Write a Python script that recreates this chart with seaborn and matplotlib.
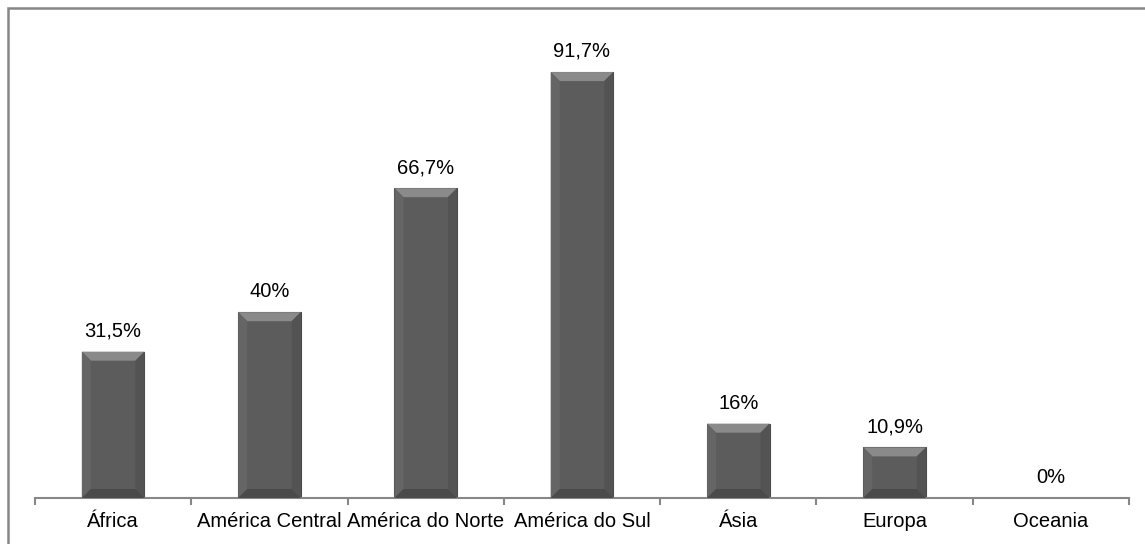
import matplotlib
matplotlib.use("Agg")
import matplotlib.pyplot as plt
import seaborn as sns
import pandas as pd
from matplotlib.patches import Rectangle, Polygon

# dados
regioes = ['África', 'América Central', 'América do Norte', 'América do Sul',
           'Ásia', 'Europa', 'Oceania']
percentuais = [31.5, 40.0, 66.7, 91.7, 16.0, 10.9, 0.0]
rotulos = ['31,5%', '40%', '66,7%', '91,7%', '16%', '10,9%', '0%']

df = pd.DataFrame({'regiao': regioes, 'pct': percentuais})

sns.set_style('white')
plt.rcParams['font.family'] = ['Liberation Sans', 'DejaVu Sans']

fig = plt.figure(figsize=(11.45, 5.44), dpi=100)
ax = fig.add_axes([35 / 1145, 46 / 544, (1129 - 35) / 1145, (498 - 33.5) / 544])

sns.barplot(data=df, x='regiao', y='pct', color='#5c5c5c', width=0.4,
            saturation=1, ax=ax, edgecolor='#4a4a4a', linewidth=0.8)

ax.set_ylim(0, 100)
ax.set_xlim(-0.5, len(regioes) - 0.5)

# efeito de chanfro nas barras (derivado das barras desenhadas)
px_x = len(regioes) / (1129 - 35)      # unidades de dados por pixel em x
px_y = 100 / (498 - 33.5)              # unidades de dados por pixel em y
bev = 9
for p in ax.patches:
    x0, w, h = p.get_x(), p.get_width(), p.get_height()
    if h <= 0:
        continue
    x1 = x0 + w
    bx, by = bev * px_x, min(bev * px_y, h / 2)
    # topo
    ax.add_patch(Polygon([(x0, h), (x1, h), (x1 - bx, h - by), (x0 + bx, h - by)],
                         closed=True, facecolor='#8a8a8a', edgecolor='none', zorder=3))
    # laterais
    ax.add_patch(Polygon([(x0, h), (x0 + bx, h - by), (x0 + bx, by), (x0, 0)],
                         closed=True, facecolor='#656565', edgecolor='none', zorder=3))
    ax.add_patch(Polygon([(x1, h), (x1 - bx, h - by), (x1 - bx, by), (x1, 0)],
                         closed=True, facecolor='#535353', edgecolor='none', zorder=3))
    # base
    ax.add_patch(Polygon([(x0, 0), (x1, 0), (x1 - bx, by), (x0 + bx, by)],
                         closed=True, facecolor='#4a4a4a', edgecolor='none', zorder=3))

for i, (v, txt) in enumerate(zip(percentuais, rotulos)):
    ax.annotate(txt, (i, v), xytext=(0, 8), textcoords='offset points',
                ha='center', va='bottom', fontsize=14.5, color='black')

# eixos
for s in ['top', 'right', 'left']:
    ax.spines[s].set_visible(False)
ax.spines['bottom'].set_color('#878787')
ax.spines['bottom'].set_linewidth(1.5)
ax.set_yticks([])
ax.set_xlabel('')
ax.set_ylabel('')
ax.set_xticks(range(len(regioes)))
ax.set_xticklabels(regioes, fontsize=14.5, color='black')
ax.tick_params(axis='x', which='major', length=0, pad=10)
ax.set_xticks([i - 0.5 for i in range(len(regioes) + 1)], minor=True)
ax.tick_params(axis='x', which='minor', bottom=True, length=5, width=1.5,
               color='#878787', direction='out')

# moldura do gráfico
fig.patches.append(Rectangle((7.5 / 1145, -0.1), 1.2, 1 - 7.5 / 544 + 0.1,
                             transform=fig.transFigure, fill=False,
                             edgecolor='#878787', linewidth=1.8))

fig.savefig('out.png', dpi=100)
